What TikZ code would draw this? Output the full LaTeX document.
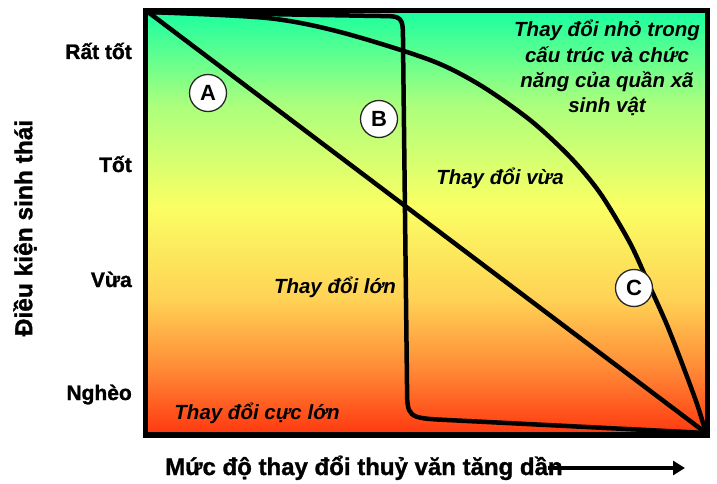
\documentclass[tikz,border=0pt]{standalone}
\usepackage{fontspec}
\setmainfont{Liberation Sans}
\newfontfamily\heavyfont{Liberation Sans}[BoldFeatures={FakeBold=1.2}]
\usetikzlibrary{arrows.meta}
\definecolor{cBot}{RGB}{255,55,15}
\definecolor{cOr}{RGB}{255,140,55}
\definecolor{cLo}{RGB}{255,210,85}
\definecolor{cYe}{RGB}{250,255,100}
\definecolor{cLg}{RGB}{170,255,125}
\definecolor{cTop}{RGB}{25,255,160}
\pgfdeclareverticalshading{ecoshade}{100bp}{color(0bp)=(cBot); color(25bp)=(cBot); color(33bp)=(cOr); color(41bp)=(cLo); color(52bp)=(cYe); color(64bp)=(cLg); color(75bp)=(cTop); color(100bp)=(cTop)}
\begin{document}
\begin{tikzpicture}[x=1bp,y=-1bp,
  curve/.style={line width=4.5bp, line join=round, line cap=round},
  ylab/.style={anchor=base east, font=\heavyfont\fontsize{21bp}{23bp}\selectfont\bfseries, inner sep=0pt},
  zone/.style={anchor=base, font=\fontsize{20.5bp}{25.3bp}\selectfont\bfseries\itshape, inner sep=0pt},
  tag/.style={circle, draw=black!85, line width=1.3bp, fill=white, minimum size=37bp, inner sep=0pt, font=\fontsize{22bp}{24bp}\selectfont\bfseries}]
\useasboundingbox (0,0) rectangle (717,484);
% gradient panel
\shade[shading=ecoshade] (145.5,10.5) rectangle (707.5,435);
\coordinate (tl) at (148,12);
\coordinate (br) at (706,433);
% curve A
\draw[curve] (tl) -- (br);
% curve B
\draw[curve] (tl) -- (378,16) .. controls (403,16) .. (403,42) -- (407,385) .. controls (407,418) .. (447,420) -- (br);
% curve C
\draw[curve] plot[smooth, tension=0.5] coordinates {(148,12) (267,18) (340,32) (430,60) (480,85) (530,120) (570,157) (600,193) (630,243) (650,287) (667,325) (683,366) (697,404) (706,433)};
% frame
\draw[line width=5.5bp] (145.5,10.5) rectangle (707.5,435);
% tags
\node[tag] (A) at (208,93) {A};
\node[tag] (B) at (379,119) {B};
\node[tag] (C) at (634,288) {C};
% zone texts
\node[zone, anchor=center, align=center] (z1) at (607,68) {Thay đổi nhỏ trong\\cấu trúc và chức\\năng của quần xã\\sinh vật};
\node[zone] (z2) at (500,185) {Thay đổi vừa};
\node[zone] (z3) at (335,293) {Thay đổi lớn};
\node[zone] (z4) at (257,419) {Thay đổi cực lớn};
% y labels
\node[ylab] (y1) at (132,59) {Rất tốt};
\node[ylab] (y2) at (132,172) {Tốt};
\node[ylab] (y3) at (132,287) {Vừa};
\node[ylab] (y4) at (132,400) {Nghèo};
% axis titles
\node[rotate=90, font=\heavyfont\fontsize{24.5bp}{26bp}\selectfont\bfseries, inner sep=0pt] (yt) at (25,228) {Điều kiện sinh thái};
\node[anchor=base west, font=\heavyfont\fontsize{24bp}{26bp}\selectfont\bfseries, inner sep=0pt] (xt) at (165,475) {Mức độ thay đổi thuỷ văn tăng dần};
\coordinate (as) at (548,468);
\coordinate (ae) at (685,468);
\draw[line width=4bp, -{Triangle[length=12bp,width=14bp]}] (as) -- (ae);
\end{tikzpicture}
\end{document}
